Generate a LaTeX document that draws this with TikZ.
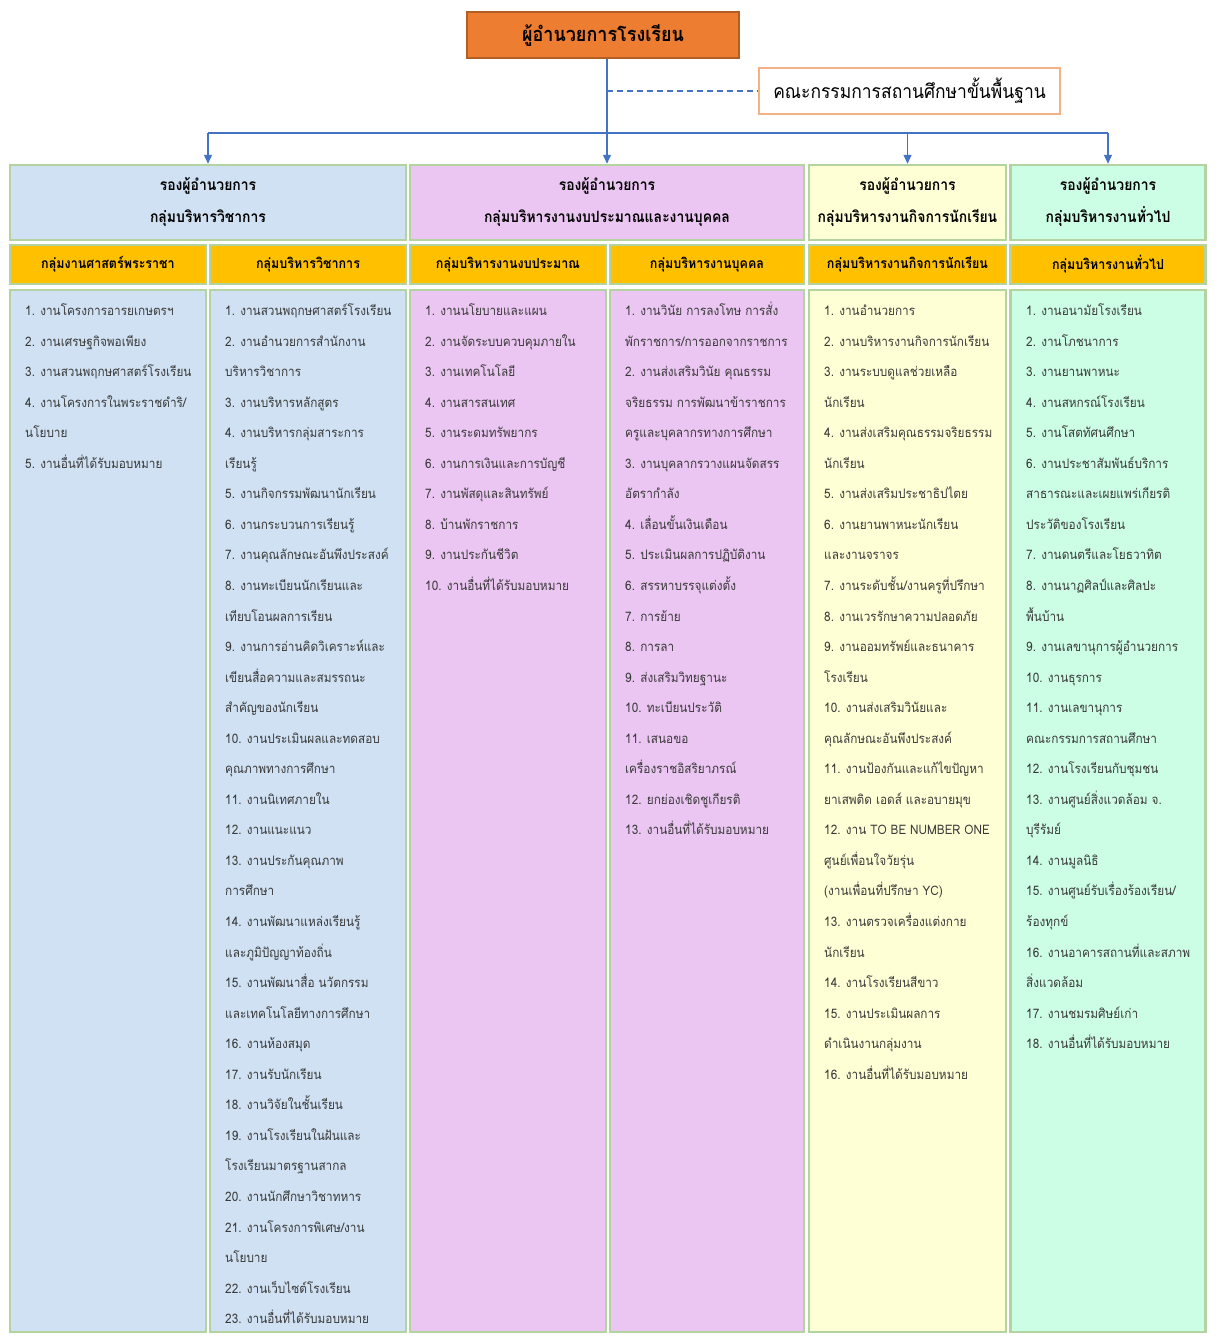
\documentclass[tikz,border=0pt]{standalone}
\usepackage{fontspec}
\setmainfont{Loma}[Script=Thai, FakeStretch=0.9]
\usetikzlibrary{arrows.meta}
\definecolor{dirfill}{HTML}{ED7D31}
\definecolor{dirline}{HTML}{B35E22}
\definecolor{boardline}{HTML}{F4B183}
\definecolor{conn}{HTML}{4472C4}
\definecolor{gblue}{HTML}{CFE1F2}
\definecolor{gpink}{HTML}{EBC6F2}
\definecolor{gyellow}{HTML}{FFFFD5}
\definecolor{gmint}{HTML}{CCFDE5}
\definecolor{gorange}{HTML}{FFC000}
\definecolor{gborder}{HTML}{B3D4A0}
\definecolor{itemtext}{HTML}{3A3A3A}
\tikzset{
  box/.style={draw=gborder, line width=2.5pt, inner sep=0pt, align=center},
  grouphead/.style={box, font=\fontsize{15.5}{32}\selectfont\bfseries},
  subhead/.style={box, fill=gorange, minimum height=39pt, font=\fontsize{13.9}{15}\selectfont\bfseries},
  body/.style={box, minimum height=1042pt},
  item/.style={anchor=base west, inner sep=0pt, text=itemtext, font=\fontsize{13.1}{14}\selectfont},
  conline/.style={draw=conn, line width=1.3pt},
  arr/.style={conline, -{Triangle[width=8pt,length=9pt]}},
}
\newcommand{\itemcol}[3]{%
  \foreach \t [count=\i from 0] in {#3}
    \node[item] (#1-\i) at (#2, 315.5+30.55*\i) {\t};
}
\begin{document}
\begin{tikzpicture}[x=1pt,y=-1pt]
\path[use as bounding box, fill=white] (0,0) rectangle (1220,1342);
% top
\node[draw=dirline, line width=1.5pt, fill=dirfill, minimum width=272pt, minimum height=46pt, font=\fontsize{20}{22}\selectfont\bfseries] (dir) at (603,35) {ผู้อำนวยการโรงเรียน};
\node[draw=boardline, line width=1.5pt, fill=white, minimum width=301pt, minimum height=46pt, font=\fontsize{19.4}{21}\selectfont] (board) at (909.5,91) {คณะกรรมการสถานศึกษาขั้นพื้นฐาน};
% group headers
\node[grouphead, fill=gblue, minimum width=396pt, minimum height=75pt] (g1) at (208,202.5) {รองผู้อำนวยการ\\กลุ่มบริหารวิชาการ};
\node[grouphead, fill=gpink, minimum width=394pt, minimum height=75pt] (g2) at (607,202.5) {รองผู้อำนวยการ\\กลุ่มบริหารงานงบประมาณและงานบุคคล};
\node[grouphead, fill=gyellow, minimum width=197pt, minimum height=75pt] (g3) at (907.5,202.5) {รองผู้อำนวยการ\\กลุ่มบริหารงานกิจการนักเรียน};
\node[grouphead, fill=gmint, minimum width=195pt, minimum height=75pt] (g4) at (1108,202.5) {รองผู้อำนวยการ\\กลุ่มบริหารงานทั่วไป};
% sub headers
\node[subhead, minimum width=196pt] (s1) at (108,264.5) {กลุ่มงานศาสตร์พระราชา};
\node[subhead, minimum width=196pt] (s2) at (308,264.5) {กลุ่มบริหารวิชาการ};
\node[subhead, minimum width=196pt] (s3) at (508,264.5) {กลุ่มบริหารงานงบประมาณ};
\node[subhead, minimum width=194pt] (s4) at (707,264.5) {กลุ่มบริหารงานบุคคล};
\node[subhead, minimum width=197pt] (s5) at (907.5,264.5) {กลุ่มบริหารงานกิจการนักเรียน};
\node[subhead, minimum width=195pt] (s6) at (1108,264.5) {กลุ่มบริหารงานทั่วไป};
% bodies
\node[body, fill=gblue, minimum width=196pt] (b1) at (108,811) {};
\node[body, fill=gblue, minimum width=196pt] (b2) at (308,811) {};
\node[body, fill=gpink, minimum width=196pt] (b3) at (508,811) {};
\node[body, fill=gpink, minimum width=194pt] (b4) at (707,811) {};
\node[body, fill=gyellow, minimum width=197pt] (b5) at (907.5,811) {};
\node[body, fill=gmint, minimum width=195pt] (b6) at (1108,811) {};
% connectors
\coordinate (hy) at (0,133);
\draw[arr] (dir.south -| g2.north) -- (g2.north);
\draw[conline] (g1.north |- hy) -- (g4.north |- hy);
\draw[arr] (g1.north |- hy) -- (g1.north);
\draw[arr] (g3.north |- hy) -- (g3.north);
\draw[arr] (g4.north |- hy) -- (g4.north);
\draw[conline, dashed, dash pattern=on 6pt off 4pt] (board.west -| g2.north) -- (board.west);
% items
\itemcol{c1}{25}{{1. งานโครงการอารยเกษตรฯ},{2. งานเศรษฐกิจพอเพียง},{3. งานสวนพฤกษศาสตร์โรงเรียน},{4. งานโครงการในพระราชดำริ/},{นโยบาย},{5. งานอื่นที่ได้รับมอบหมาย}}
\itemcol{c2}{225}{{1. งานสวนพฤกษศาสตร์โรงเรียน},{2. งานอำนวยการสำนักงาน},{บริหารวิชาการ},{3. งานบริหารหลักสูตร},{4. งานบริหารกลุ่มสาระการ},{เรียนรู้},{5. งานกิจกรรมพัฒนานักเรียน},{6. งานกระบวนการเรียนรู้},{7. งานคุณลักษณะอันพึงประสงค์},{8. งานทะเบียนนักเรียนและ},{เทียบโอนผลการเรียน},{9. งานการอ่านคิดวิเคราะห์และ},{เขียนสื่อความและสมรรถนะ},{สำคัญของนักเรียน},{10. งานประเมินผลและทดสอบ},{คุณภาพทางการศึกษา},{11. งานนิเทศภายใน},{12. งานแนะแนว},{13. งานประกันคุณภาพ},{การศึกษา},{14. งานพัฒนาแหล่งเรียนรู้},{และภูมิปัญญาท้องถิ่น},{15. งานพัฒนาสื่อ นวัตกรรม},{และเทคโนโลยีทางการศึกษา},{16. งานห้องสมุด},{17. งานรับนักเรียน},{18. งานวิจัยในชั้นเรียน},{19. งานโรงเรียนในฝันและ},{โรงเรียนมาตรฐานสากล},{20. งานนักศึกษาวิชาทหาร},{21. งานโครงการพิเศษ/งาน},{นโยบาย},{22. งานเว็บไซต์โรงเรียน},{23. งานอื่นที่ได้รับมอบหมาย}}
\itemcol{c3}{425}{{1. งานนโยบายและแผน},{2. งานจัดระบบควบคุมภายใน},{3. งานเทคโนโลยี},{4. งานสารสนเทศ},{5. งานระดมทรัพยากร},{6. งานการเงินและการบัญชี},{7. งานพัสดุและสินทรัพย์},{8. บ้านพักราชการ},{9. งานประกันชีวิต},{10. งานอื่นที่ได้รับมอบหมาย}}
\itemcol{c4}{625}{{1. งานวินัย การลงโทษ การสั่ง},{พักราชการ/การออกจากราชการ},{2. งานส่งเสริมวินัย คุณธรรม},{จริยธรรม การพัฒนาข้าราชการ},{ครูและบุคลากรทางการศึกษา},{3. งานบุคลากรวางแผนจัดสรร},{อัตรากำลัง},{4. เลื่อนขั้นเงินเดือน},{5. ประเมินผลการปฏิบัติงาน},{6. สรรหาบรรจุแต่งตั้ง},{7. การย้าย},{8. การลา},{9. ส่งเสริมวิทยฐานะ},{10. ทะเบียนประวัติ},{11. เสนอขอ},{เครื่องราชอิสริยาภรณ์},{12. ยกย่องเชิดชูเกียรติ},{13. งานอื่นที่ได้รับมอบหมาย}}
\itemcol{c5}{824}{{1. งานอำนวยการ},{2. งานบริหารงานกิจการนักเรียน},{3. งานระบบดูแลช่วยเหลือ},{นักเรียน},{4. งานส่งเสริมคุณธรรมจริยธรรม},{นักเรียน},{5. งานส่งเสริมประชาธิปไตย},{6. งานยานพาหนะนักเรียน},{และงานจราจร},{7. งานระดับชั้น/งานครูที่ปรึกษา},{8. งานเวรรักษาความปลอดภัย},{9. งานออมทรัพย์และธนาคาร},{โรงเรียน},{10. งานส่งเสริมวินัยและ},{คุณลักษณะอันพึงประสงค์},{11. งานป้องกันและแก้ไขปัญหา},{ยาเสพติด เอดส์ และอบายมุข},{12. งาน TO BE NUMBER ONE},{ศูนย์เพื่อนใจวัยรุ่น},{(งานเพื่อนที่ปรึกษา YC)},{13. งานตรวจเครื่องแต่งกาย},{นักเรียน},{14. งานโรงเรียนสีขาว},{15. งานประเมินผลการ},{ดำเนินงานกลุ่มงาน},{16. งานอื่นที่ได้รับมอบหมาย}}
\itemcol{c6}{1026}{{1. งานอนามัยโรงเรียน},{2. งานโภชนาการ},{3. งานยานพาหนะ},{4. งานสหกรณ์โรงเรียน},{5. งานโสตทัศนศึกษา},{6. งานประชาสัมพันธ์บริการ},{สาธารณะและเผยแพร่เกียรติ},{ประวัติของโรงเรียน},{7. งานดนตรีและโยธวาทิต},{8. งานนาฏศิลป์และศิลปะ},{พื้นบ้าน},{9. งานเลขานุการผู้อำนวยการ},{10. งานธุรการ},{11. งานเลขานุการ},{คณะกรรมการสถานศึกษา},{12. งานโรงเรียนกับชุมชน},{13. งานศูนย์สิ่งแวดล้อม จ.},{บุรีรัมย์},{14. งานมูลนิธิ},{15. งานศูนย์รับเรื่องร้องเรียน/},{ร้องทุกข์},{16. งานอาคารสถานที่และสภาพ},{สิ่งแวดล้อม},{17. งานชมรมศิษย์เก่า},{18. งานอื่นที่ได้รับมอบหมาย}}
\end{tikzpicture}
\end{document}
